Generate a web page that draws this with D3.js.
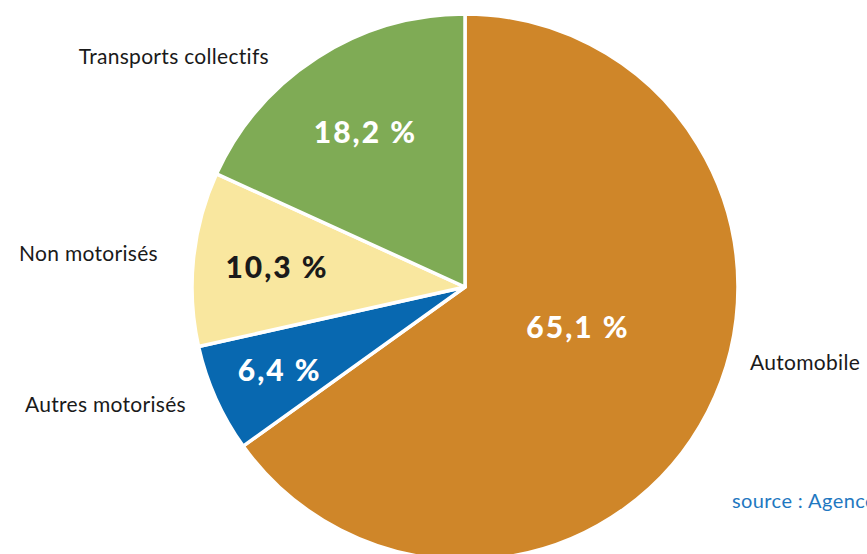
<!DOCTYPE html>
<html>
<head>
<meta charset="utf-8">
<script src="https://cdn.jsdelivr.net/npm/d3@7"></script>
<style>
  body { margin: 0; background: #fff; }
  svg { display: block; font-family: Lato, "Open Sans", sans-serif; }
</style>
</head>
<body>
<svg id="chart" width="867" height="554"></svg>
<script>
const categories = ["Automobile", "Autres motorisés", "Non motorisés", "Transports collectifs"];
const shares = [65.1, 6.4, 10.3, 18.2];
const shareLabels = ["65,1 %", "6,4 %", "10,3 %", "18,2 %"];
const colors = ["#cf8629", "#0868b0", "#f9e79f", "#7fab55"];
const valueColors = ["#fff", "#fff", "#1a1a1a", "#fff"];

const svg = d3.select("#chart"),
  width = +svg.attr("width"),
  height = +svg.attr("height");

const cx = 465, cy = 287, radius = 273;

const slices = categories.map((c, i) => ({ name: c, value: shares[i], label: shareLabels[i], i: i }));

const pie = d3.pie().sort(null).value(d => d.value);
const arc = d3.arc().innerRadius(0).outerRadius(radius);
const arcs = pie(slices);

const g = svg.append("g").attr("transform", `translate(${cx},${cy})`);

g.selectAll("path")
  .data(arcs)
  .join("path")
  .attr("d", arc)
  .attr("fill", d => colors[d.data.i])
  .attr("stroke", "#fff")
  .attr("stroke-width", 3.5)
  .attr("stroke-linejoin", "round");

// distance of each value label from the centre
const labelRadius = [120, 203, 189, 184];

g.selectAll("text.value")
  .data(arcs)
  .join("text")
  .attr("class", "value")
  .attr("transform", d => {
    const r = labelRadius[d.data.i];
    // big slice: label sits a bit above its mid angle
    const a = d.data.value > 50 ? (d.startAngle + d.endAngle) / 2 - 0.13 : (d.startAngle + d.endAngle) / 2;
    return `translate(${r * Math.sin(a)},${-r * Math.cos(a)})`;
  })
  .attr("text-anchor", "middle")
  .attr("dy", "0.36em")
  .attr("fill", d => valueColors[d.data.i])
  .style("font-size", "30px")
  .style("font-weight", 900)
  .style("letter-spacing", "2px")
  .text(d => d.data.label);

// category names sit outside the pie
const namePos = {
  "Automobile": [750, 370, "start"],
  "Autres motorisés": [186, 412, "end"],
  "Non motorisés": [158, 261, "end"],
  "Transports collectifs": [269, 64, "end"]
};

svg.selectAll("text.name")
  .data(slices)
  .join("text")
  .attr("class", "name")
  .attr("x", d => namePos[d.name][0])
  .attr("y", d => namePos[d.name][1])
  .attr("text-anchor", d => namePos[d.name][2])
  .attr("fill", "#1a1a1a")
  .style("font-size", "21px")
  .style("letter-spacing", "0.3px")
  .text(d => d.name);

svg.append("text")
  .attr("x", 732)
  .attr("y", 508)
  .attr("fill", "#1f78c1")
  .style("font-size", "20px")
  .style("letter-spacing", "0.4px")
  .text("source : Agence");
</script>
</body>
</html>
